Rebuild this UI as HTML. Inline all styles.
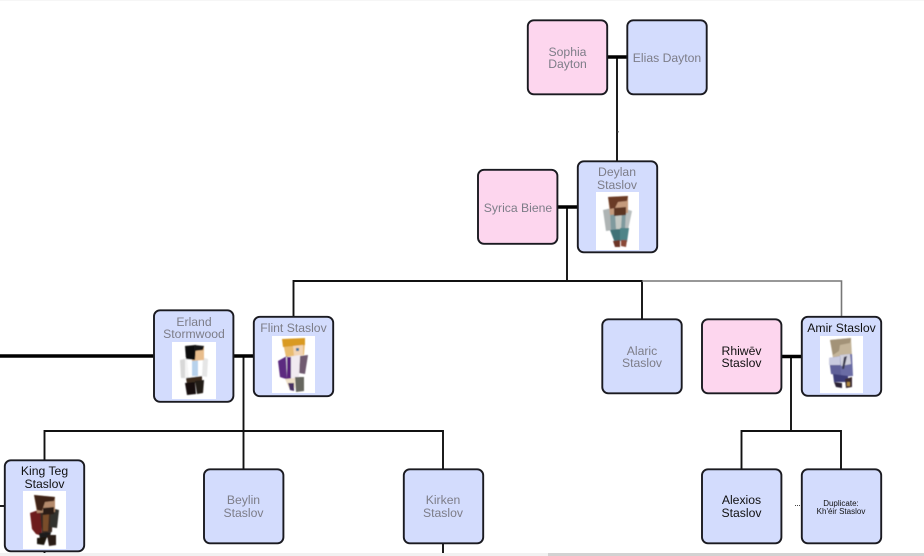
<!DOCTYPE html>
<html><head><meta charset="utf-8"><style>
html,body{margin:0;padding:0;background:#fff}
body{width:924px;height:556px;overflow:hidden}
svg{display:block}
text{font-family:"Liberation Sans",sans-serif;font-size:12.2px;text-anchor:middle;fill:#7d7d88}
text.k{fill:#111}
.b{fill:#d3dcfd;stroke:#1a1a20;stroke-width:1.9}
.p{fill:#fdd6ee;stroke:#1a1a20;stroke-width:1.9}
</style></head><body>
<svg width="924" height="556" viewBox="0 0 924 556" xmlns="http://www.w3.org/2000/svg">
<defs><filter id="s" x="-5%" y="-5%" width="110%" height="110%"><feGaussianBlur stdDeviation="0.6"/></filter></defs>
<rect x="0" y="0" width="924" height="1" fill="#f6f6f6"/>
<rect x="0" y="553" width="548" height="3" fill="#f1f1f1"/>
<rect x="548" y="553" width="376" height="3" fill="#d2d2d2"/>

<g fill="none" stroke="#111" stroke-width="1.9">
<path d="M617 57V161"/>
<path d="M567 207V281"/>
<path d="M293.500 316V281H642V319"/>
<path d="M243.500 356V469"/>
<path d="M44.500 460V431H443V469"/>
<path d="M791 356V431"/>
<path d="M741.500 469V431H841V469"/>
<path d="M443 543V553"/>
<path d="M44.500 551V553"/>
<path d="M0 506H5"/>
</g>
<path d="M642 281H841.500V316" fill="none" stroke="#777" stroke-width="1.600"/>
<g stroke="#000" stroke-width="3.400" fill="none">
<path d="M607 57H627"/>
<path d="M557 207H577"/>
<path d="M0 356H154"/>
<path d="M233 356H254"/>
<path d="M781 356.500H802"/>
</g>
<path d="M795 505.500H800" stroke="#444" stroke-width="1" stroke-dasharray="1 1"/>
<rect x="617" y="131" width="1.500" height="1.500" fill="#333"/>

<rect class="p" x="527.800" y="20.300" width="79.400" height="74" rx="6"/>
<rect class="b" x="627.300" y="20.300" width="79.400" height="74" rx="6"/>
<rect class="b" x="577.800" y="161.300" width="79.400" height="91" rx="6"/>
<rect class="p" x="478" y="169.800" width="79.400" height="74" rx="6"/>
<rect class="b" x="154" y="310.300" width="79.400" height="91.500" rx="6"/>
<rect class="b" x="253.800" y="316.800" width="79.400" height="79.400" rx="6"/>
<rect class="b" x="602.300" y="319.300" width="79.400" height="74" rx="6"/>
<rect class="p" x="702" y="319.300" width="79.400" height="74" rx="6"/>
<rect class="b" x="801.800" y="316.800" width="79.400" height="79" rx="6"/>
<rect class="b" x="4.800" y="460.300" width="79.400" height="91" rx="6"/>
<rect class="b" x="204" y="469.300" width="79.400" height="74" rx="6"/>
<rect class="b" x="403.800" y="469.300" width="79.400" height="74" rx="6"/>
<rect class="b" x="702" y="469.300" width="79.400" height="74" rx="6"/>
<rect class="b" x="801.800" y="469.300" width="79.400" height="74" rx="6"/>

<text x="567.500" y="56">Sophia</text><text x="567.500" y="68">Dayton</text>
<text x="667" y="62">Elias Dayton</text>
<text x="617" y="176">Deylan</text><text x="617" y="189">Staslov</text>
<text x="518" y="212">Syrica Biene</text>
<text x="194" y="326">Erland</text><text x="194" y="338">Stormwood</text>
<text x="293.500" y="332">Flint Staslov</text>
<text x="642" y="355">Alaric</text><text x="642" y="367">Staslov</text>
<text class="k" x="741.500" y="355">Rhiwēv</text><text class="k" x="741.500" y="367">Staslov</text>
<text class="k" x="841.500" y="332">Amir Staslov</text>
<text class="k" x="44.500" y="475">King Teg</text><text class="k" x="44.500" y="488">Staslov</text>
<text x="243.500" y="504">Beylin</text><text x="243.500" y="517">Staslov</text>
<text x="443" y="504">Kirken</text><text x="443" y="517">Staslov</text>
<text class="k" x="741.500" y="504">Alexios</text><text class="k" x="741.500" y="517">Staslov</text>
<text class="k" x="841" y="506" style="font-size:8px">Duplicate:</text>
<text class="k" x="841" y="514" style="font-size:8px">Kh'éir Staslov</text>

<rect x="596" y="192" width="43" height="58" fill="#fff"/>
<rect x="172" y="342" width="44" height="57" fill="#fff"/>
<rect x="272" y="336" width="43" height="57" fill="#fff"/>
<rect x="23" y="491" width="43" height="58" fill="#fff"/>
<rect x="820" y="336" width="43" height="57" fill="#fff"/>

<g filter="url(#s)">
<!-- Deylan -->
<g transform="translate(596 192)">
<path d="M7 18L16 16L17 38L10 39Z" fill="#aeb4b4"/>
<path d="M27 16L36 19L32 38L26 36Z" fill="#b9bfbf"/>
<path d="M14 18L30 16L29 38L15 40Z" fill="#7f9a9e"/>
<path d="M19 21L26 20L25 37L20 37Z" fill="#c4c9c4"/>
<path d="M12 5L32 4L32 21L14 23Z" fill="#c49a7c"/>
<path d="M12 5L32 4L31 9L22 10L19 16L14 17Z" fill="#6a3a26"/>
<path d="M18 16L30 15L30 23L18 24Z" fill="#5b3422"/>
<path d="M14 38L24 37L24 49L19 51Z" fill="#3f7277"/>
<path d="M24 36L33 36L31 50L24 49Z" fill="#4f8488"/>
<path d="M17 49L24 48L24 55L19 55Z" fill="#6d3528"/>
<path d="M25 48L31 48L30 55L25 54Z" fill="#8a4a38"/>
</g>
<!-- Erland -->
<g transform="translate(172 342)">
<path d="M8 18L17 15L18 37L9 36Z" fill="#f4f4f4"/>
<path d="M29 15L36 17L35 35L29 34Z" fill="#e6e6e6"/>
<path d="M15 16L31 14L30 35L17 37Z" fill="#fff"/>
<path d="M20 17L26 16L26 34L20 34Z" fill="#b8d2ec"/>
<path d="M8 18L13 17L13 36L9 36Z" fill="#d8d8d8"/>
<path d="M20 4L32 4L32 18L20 19Z" fill="#e8bd8c"/>
<path d="M13 4L24 3L23 18L14 17Z" fill="#0c0c0c"/>
<path d="M22 3L32 4L31 8L22 9Z" fill="#141414"/>
<path d="M14 36L30 34L30 40L15 42Z" fill="#3a2a1e"/>
<path d="M13 41L23 40L24 52L15 53Z" fill="#141010"/>
<path d="M23 39L32 38L31 51L25 52Z" fill="#221a16"/>
</g>
<!-- Flint -->
<g transform="translate(272 336)">
<path d="M11 7L33 6L32 19L14 21Z" fill="#e9bc70"/>
<path d="M10 3L33 2L33 9L11 11Z" fill="#d99a24"/>
<path d="M21 10L31 9L31 19L22 20Z" fill="#f2d4b4"/>
<path d="M24 12L27 12L27 15L24 15Z" fill="#4a78a0"/>
<path d="M6 25L15 20L17 44L8 41Z" fill="#5c2a80"/>
<path d="M28 20L36 19L33 38L27 37Z" fill="#6f5a6f"/>
<path d="M14 21L28 19L27 42L15 43Z" fill="#f0eaf0"/>
<path d="M15 21L19 21L19 43L15 43Z" fill="#58227c"/>
<path d="M13 43L23 42L23 52L17 52Z" fill="#efe0c8"/>
<path d="M16 47L22 47L22 55L18 54Z" fill="#4a3264"/>
<path d="M23 41L32 41L32 55L24 56Z" fill="#66665f"/>
</g>
<!-- King Teg -->
<g transform="translate(23 491)">
<path d="M7 22L18 18L19 45L13 43L9 38Z" fill="#6d1f1c"/>
<path d="M17 20L30 18L29 41L19 42Z" fill="#3a2a24"/>
<path d="M28 17L36 19L34 37L27 36Z" fill="#33322e"/>
<path d="M20 24L26 23L25 40L20 40Z" fill="#7a4d2a"/>
<path d="M11 4L32 6L32 21L14 22Z" fill="#b48a6c"/>
<path d="M11 4L32 6L31 10L22 11L19 20L14 19Z" fill="#3d2218"/>
<path d="M20 17L31 16L31 23L20 24Z" fill="#2c1c14"/>
<path d="M16 42L28 41L27 46L17 48Z" fill="#1f1c1a"/>
<path d="M14 47L24 46L21 54L14 53Z" fill="#1a120e"/>
<path d="M24 44L33 44L33 54L26 55Z" fill="#2a1c14"/>
</g>
<!-- Amir -->
<g transform="translate(820 336)">
<path d="M10 4L31 2L32 20L13 22Z" fill="#c4b59a"/>
<path d="M10 4L31 2L30 7L20 9L19 15L13 19Z" fill="#a39378"/>
<path d="M9 22L21 20L21 40L11 38Z" fill="#5f6199"/>
<path d="M9 22L21 20L21 29L9 29Z" fill="#c9cbe0"/>
<path d="M20 19L32 18L33 40L21 41Z" fill="#6a6ca4"/>
<path d="M20 19L30 18L31 28L21 30Z" fill="#d0d0dc"/>
<path d="M24 21L27 20L24 33L22 33Z" fill="#3a3a50"/>
<path d="M13 38L28 40L28 46L14 46Z" fill="#3c3c78"/>
<path d="M14 46L22 47L22 52L16 51Z" fill="#2a2034"/>
<path d="M25 43L32 41L32 51L26 52Z" fill="#3a2c30"/>
<path d="M27 46L30 46L30 50L27 50Z" fill="#b08a40"/>
</g>
</g>
</svg>
</body></html>
